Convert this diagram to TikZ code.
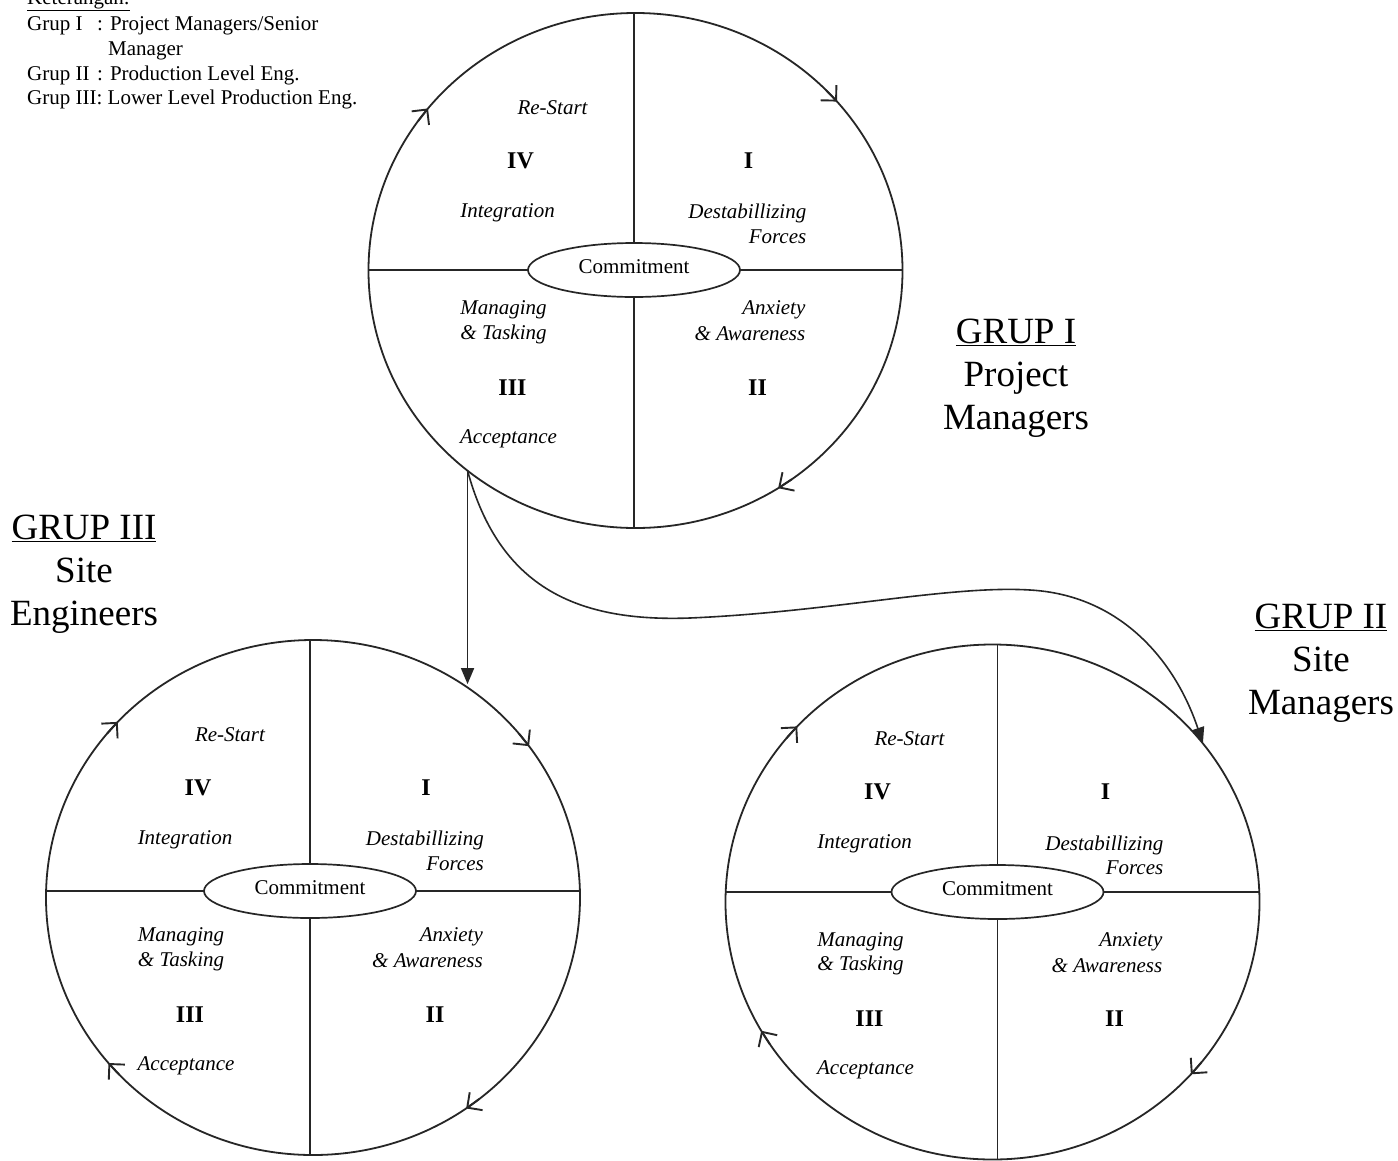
\documentclass[tikz,border=0pt]{standalone}
\usepackage{fontspec}
\setmainfont{Liberation Serif}
\usetikzlibrary{arrows.meta,shapes.geometric,calc}

\tikzset{
  ring/.style={ellipse, draw=black!85, line width=1.8pt, minimum width=534pt,
    minimum height=515pt, inner sep=0pt, outer sep=0pt},
  core/.style={ellipse, draw=black!85, line width=1.7pt, minimum width=212pt,
    minimum height=54pt, inner sep=0pt, outer sep=0pt,
    font=\fontsize{21}{24}\selectfont},
  divider/.style={draw=black!85, line width=1.5pt},
  phase/.style={font=\fontsize{21}{24}\selectfont\itshape, inner sep=0pt},
  numeral/.style={font=\fontsize{24}{26}\selectfont\bfseries, inner sep=0pt},
  ringtip/.style={draw=black!85, line width=1.9pt,
    -{Straight Barb[length=11pt,width=22pt]}},
  link/.style={draw=black!85, line width=1.6pt,
    -{Triangle[length=16pt,width=13pt]}},
  group/.style={font=\fontsize{37}{43}\selectfont, align=center, inner sep=0pt},
  legend/.style={font=\fontsize{21}{24}\selectfont, inner sep=0pt, anchor=base west},
}

% one change cycle: ring, commitment core, quadrant dividers and labels
% #1 name, #2/#3 ring centre, #4/#5 core centre
\newcommand\wheel[5]{%
  \node[ring] (#1) at (#2,#3) {};
  \node[core] (#1-c) at (#4,#5) {\raisebox{6pt}{Commitment}};
  \draw[divider] (#1-c.north) -- (#1-c.north |- #1.north);
  \draw[divider] (#1-c.south) -- (#1-c.south |- #1.south);
  \draw[divider] (#1-c.west) -- (#1-c.west -| #1.west);
  \draw[divider] (#1-c.east) -- (#1-c.east -| #1.east);
  \node[phase] (#1-restart) at ($(#1)+(-83,-163)$) {Re-Start};
  \node[numeral] (#1-iv) at ($(#1)+(-115,-110)$) {IV};
  \node[numeral] (#1-i) at ($(#1)+(113,-110)$) {I};
  \node[phase] (#1-integ) at ($(#1)+(-128,-58)$) {Integration};
  \node[phase, anchor=east] (#1-destab) at ($(#1)+(171,-57)$) {Destabillizing};
  \node[phase, anchor=east] (#1-forces) at ($(#1)+(171,-34)$) {Forces};
  \node[phase] (#1-manag) at ($(#1)+(-132,39.5)$) {Managing};
  \node[phase] (#1-task) at ($(#1)+(-132,63.5)$) {\& Tasking};
  \node[phase, anchor=east] (#1-anx) at ($(#1)+(170,39.5)$) {Anxiety};
  \node[phase, anchor=east] (#1-aware) at ($(#1)+(170,63.5)$) {\& Awareness};
  \node[numeral] (#1-iii) at ($(#1)+(-123,117)$) {III};
  \node[numeral] (#1-ii) at ($(#1)+(122,117)$) {II};
  \node[phase] (#1-accept) at ($(#1)+(-127,168)$) {Acceptance};
}

% clockwise direction mark on a ring at parametric angle #2
\newcommand\ringarrow[2]{%
  \draw[ringtip] ([shift={(#2+3.5:267pt and 257.5pt)}]#1.center)
    -- ([shift={(#2:267pt and 257.5pt)}]#1.center);}

\begin{document}
\begin{tikzpicture}[x=1pt, y=-1pt]
  \useasboundingbox (0,0) rectangle (1398,1160);
  \fill[white] (0,0) rectangle (1398,1160);

  % legend
  \node[legend] (k0) at (27,4.5) {\underline{Keterangan:}};
  \node[legend] (k1) at (27,30) {Grup I};
  \node[legend] (k1b) at (97,30) {: Project Managers/Senior};
  \node[legend] (k1c) at (108,55) {Manager};
  \node[legend] (k2) at (27,80) {Grup II};
  \node[legend] (k2b) at (97,80) {: Production Level Eng.};
  \node[legend] (k3) at (27,104) {Grup III: Lower Level Production Eng.};

  % the three cycles
  \wheel{T}{635.5}{270.5}{634}{270}
  \wheel{L}{313}{897.5}{310}{891}
  \wheel{R}{992.5}{902}{997.5}{892}

  \ringarrow{T}{141}
  \ringarrow{T}{41}
  \ringarrow{T}{-57.7}
  \ringarrow{L}{137}
  \ringarrow{L}{36}
  \ringarrow{L}{-55}
  \ringarrow{L}{220}
  \ringarrow{R}{137}
  \ringarrow{R}{-42}
  \ringarrow{R}{210}

  % group captions
  \node[group] (g1) at (1016,378) {\underline{GRUP I}\\Project\\Managers};
  \node[group] (g3) at (84,574) {\underline{GRUP III}\\Site\\Engineers};
  \node[group] (g2) at (1321,663) {\underline{GRUP II}\\Site\\Managers};

  % hand-over from the project managers to both site groups
  \coordinate (split) at (T.230);
  \coordinate (Lin) at (L.55);
  \coordinate (Rin) at (R.37);
  \draw[link] (split) -- (split |- Lin);
  \draw[link] (split) .. controls (500,590) and (580,622) .. (690,618)
    .. controls (830,612) and (950,585) .. (1030,590)
    .. controls (1120,595) and (1175,660) .. (Rin);
\end{tikzpicture}
\end{document}
